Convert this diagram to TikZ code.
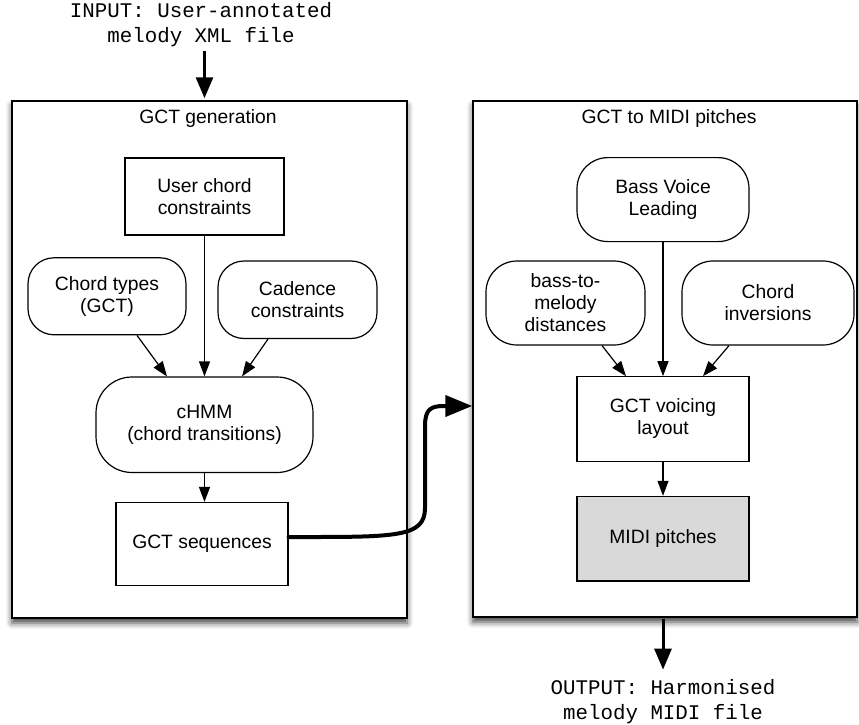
\documentclass[tikz,border=0pt]{standalone}
\usepackage{fontspec}
\setmainfont{Liberation Sans}
\setmonofont{Liberation Mono}
\usetikzlibrary{arrows.meta,shadows.blur,calc}
\definecolor{midigray}{RGB}{217,217,217}
\begin{document}
\begin{tikzpicture}[x=1pt,y=-1pt,
  outerbox/.style={draw, line width=1.5pt, fill=white,
    blur shadow={shadow xshift=0pt, shadow yshift=-5pt, shadow blur radius=6pt, shadow opacity=75}},
  sanstext/.style={font=\fontsize{19.3}{22}\selectfont, align=center},
  titletext/.style={font=\fontsize{19.3}{22}\selectfont},
  monotext/.style={font=\ttfamily\fontsize{20.8}{25}\selectfont, align=center, inner sep=0pt},
  rectbox/.style={draw, line width=1.2pt, fill=white, sanstext},
  roundbox/.style={draw, line width=1.2pt, fill=white, rounded corners=#1, sanstext},
  smallarrow/.style={line width=1.2pt, -{Triangle[length=15pt,width=11pt]}},
  bigarrow/.style={line width=3pt, -{Triangle[length=21pt,width=17pt]}},
  thickarrow/.style={line width=4pt, line cap=round, -{Triangle[length=27pt,width=21pt]}}
]
\useasboundingbox (0,0) rectangle (859,725);

% outer boxes
\node[outerbox, minimum width=395pt, minimum height=517pt] (outerL) at (209.5,359.5) {};
\node[outerbox, minimum width=384pt, minimum height=516pt] (outerR) at (665,359) {};
\node[titletext] (titleL) at (208,119) {GCT generation};
\node[titletext] (titleR) at (669,119) {GCT to MIDI pitches};

% left column
\node[rectbox, minimum width=159pt, minimum height=77pt] (ucc) at (204.5,196.4) {User chord\\constraints};
\node[roundbox=26pt, minimum width=158pt, minimum height=77pt] (ct) at (107,296.3) {Chord types\\(GCT)};
\node[roundbox=26pt, minimum width=159pt, minimum height=77.5pt] (cad) at (297.5,299.75) {Cadence\\constraints};
\node[roundbox=36pt, minimum width=217pt, minimum height=95.5pt] (chmm) at (204.5,424.75) {cHMM\\(chord transitions)};
\node[rectbox, minimum width=172pt, minimum height=83pt] (seq) at (202,544) {GCT sequences};

% right column
\node[roundbox=31pt, minimum width=172pt, minimum height=84pt] (bvl) at (663,199.6) {Bass Voice\\Leading};
\node[roundbox=31pt, minimum width=159pt, minimum height=84pt] (btm) at (565.5,303) {bass-to-\\melody\\distances};
\node[roundbox=31pt, minimum width=172pt, minimum height=84pt] (inv) at (768,303) {Chord\\inversions};
\node[rectbox, minimum width=172pt, minimum height=84.5pt] (voice) at (663,419) {GCT voicing\\layout};
\node[rectbox, fill=midigray, minimum width=172pt, minimum height=84.6pt] (midi) at (663,538.7) {MIDI pitches};

% input / output
\node[monotext] (input) at (201,25) {INPUT: User-annotated\\melody XML file};
\node[monotext] (output) at (663,702) {OUTPUT: Harmonised\\melody MIDI file};

% arrows left
\draw[smallarrow] ([xshift=30pt]ct.south) -- ([xshift=-37.5pt]chmm.north);
\draw[smallarrow] (ucc.south) -- (chmm.north);
\draw[smallarrow] ([xshift=-29.5pt]cad.south) -- ([xshift=37.5pt]chmm.north);
\draw[smallarrow] (chmm.south) -- (chmm.south |- seq.north);

% arrows right
\draw[smallarrow] ([xshift=36.5pt]btm.south) -- ([xshift=-37pt]voice.north);
\draw[smallarrow] (bvl.south) -- (voice.north);
\draw[smallarrow] ([xshift=-39pt]inv.south) -- ([xshift=40pt]voice.north);
\draw[smallarrow] (voice.south) -- (midi.north);

% input / output arrows
\draw[bigarrow, shorten <=4pt, shorten >=2pt] (input.south -| ucc.north) -- (ucc.north |- outerL.north);
\draw[bigarrow, shorten <=1pt, shorten >=10pt] (midi.south |- outerR.south) -- (midi.south |- output.north);

% connector between stages
\draw[thickarrow] ([yshift=7pt]seq.east) .. controls (395,537) and (425,538) .. (425,508)
  -- (425,426) .. controls (425,409) and (431,406) .. (444,406) -- ([yshift=-47pt]outerR.west);
\end{tikzpicture}
\end{document}
